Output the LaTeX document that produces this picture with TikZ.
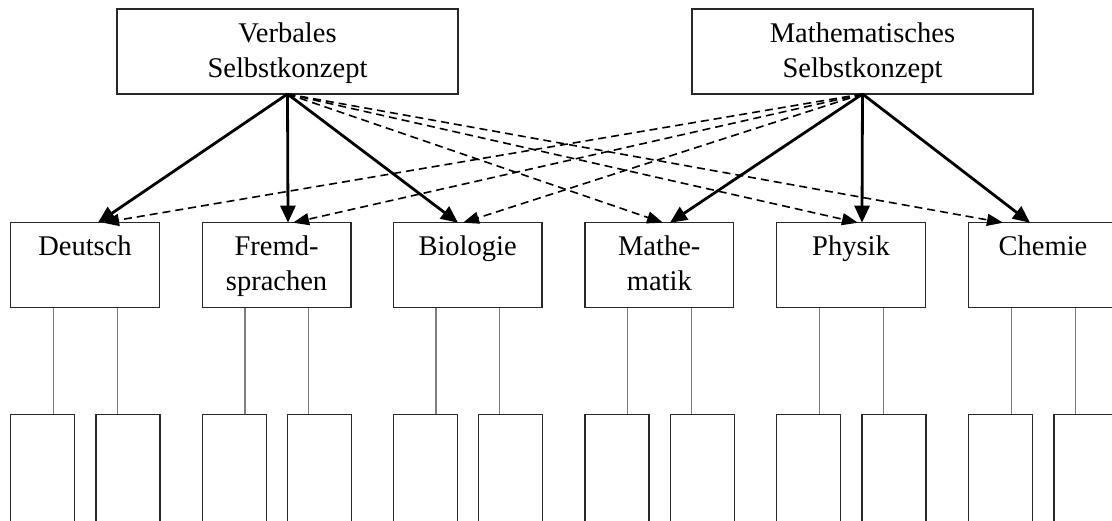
\documentclass[tikz,border=0pt]{standalone}
\usepackage{fontspec}
\setmainfont{Liberation Serif}
\usetikzlibrary{arrows.meta,calc}
\definecolor{linkgray}{RGB}{125,125,125}
\definecolor{boxline}{RGB}{40,40,40}
\newcommand\mystrut{\rule[-9pt]{0pt}{34pt}}
\begin{document}
\begin{tikzpicture}[x=1pt,y=-1pt,
  box/.style={draw=boxline, line width=1.3pt, fill=white, align=center, inner sep=0pt, outer sep=0pt,
              font=\fontsize{28.5}{32}\selectfont},
  topbox/.style={box, minimum width=341pt, minimum height=85pt},
  subj/.style={box, minimum width=148.6pt, minimum height=85pt},
  leaf/.style={draw=boxline, line width=1.3pt, fill=white, minimum width=64pt, minimum height=160pt,
               anchor=north west, inner sep=0pt, outer sep=0pt},
  link/.style={draw=linkgray, line width=1.2pt},
  strong/.style={draw=black, line width=2.8pt, -{Triangle[length=17pt,width=15pt]}},
  weak/.style={draw=black, line width=1.6pt, dash pattern=on 8pt off 5pt, -{Triangle[length=16pt,width=12pt]}}
]
\fill[white] (0,0) rectangle (1112,520);
\useasboundingbox (0,0) rectangle (1112,520);
\clip (0,0) rectangle (1112,520);

% top boxes
\node[topbox] (V) at (287.5,51.5) {\mystrut Verbales\\Selbstkonzept\mystrut};
\node[topbox] (M) at (862.5,51.5) {\mystrut Mathematisches\\Selbstkonzept\mystrut};

% subject boxes
\node[subj] (deu) at (85.0,265.2)   {\mystrut Deutsch\\\mystrut};
\node[subj] (fre) at (276.6,265.2)  {\mystrut Fremd-\\sprachen\mystrut};
\node[subj] (bio) at (467.6,265.2)  {\mystrut Biologie\\\mystrut};
\node[subj] (mat) at (659.3,265.2)  {\mystrut Mathe-\\matik\mystrut};
\node[subj] (phy) at (851.0,265.2)  {\mystrut Physik\\\mystrut};
\node[subj] (che) at (1043.0,265.2) {\mystrut Chemie\\\mystrut};

% leaf boxes and their links
\foreach \s in {deu,fre,bio,mat,phy,che}{
  \node[leaf] (\s1) at (\s.south west |- 0,414.3) {};
  \node[leaf] (\s2) at ([xshift=85.2pt]\s1.north west) {};
  \draw[link] ([xshift=42.7pt]\s.south west) -- ([xshift=42.7pt]\s1.north west);
  \draw[link] ([xshift=106.5pt]\s.south west) -- ([xshift=21.3pt]\s2.north west);
}

% dashed cross-loadings
\draw[weak] (V.south) -- ([xshift=78pt]mat.north west);
\draw[weak] (V.south) -- ([xshift=81.3pt]phy.north west);
\draw[weak] (V.south) -- ([xshift=34.3pt]che.north west);
\draw[weak] (M.south) -- ([xshift=92.3pt]deu.north west);
\draw[weak] (M.south) -- ([xshift=90.7pt]fre.north west);
\draw[weak] (M.south) -- ([xshift=69.7pt]bio.north west);

% solid loadings
\draw[strong] (V.south) -- ([xshift=87.3pt]deu.north west);
\draw[strong] (V.south) -- ([xshift=85.7pt]fre.north west);
\draw[strong] (V.south) -- ([xshift=64.7pt]bio.north west);
\draw[strong] (M.south) -- ([xshift=85pt]mat.north west);
\draw[strong] (M.south) -- ([xshift=85.3pt]phy.north west);
\draw[strong] (M.south) -- ([xshift=61.3pt]che.north west);
\end{tikzpicture}
\end{document}
